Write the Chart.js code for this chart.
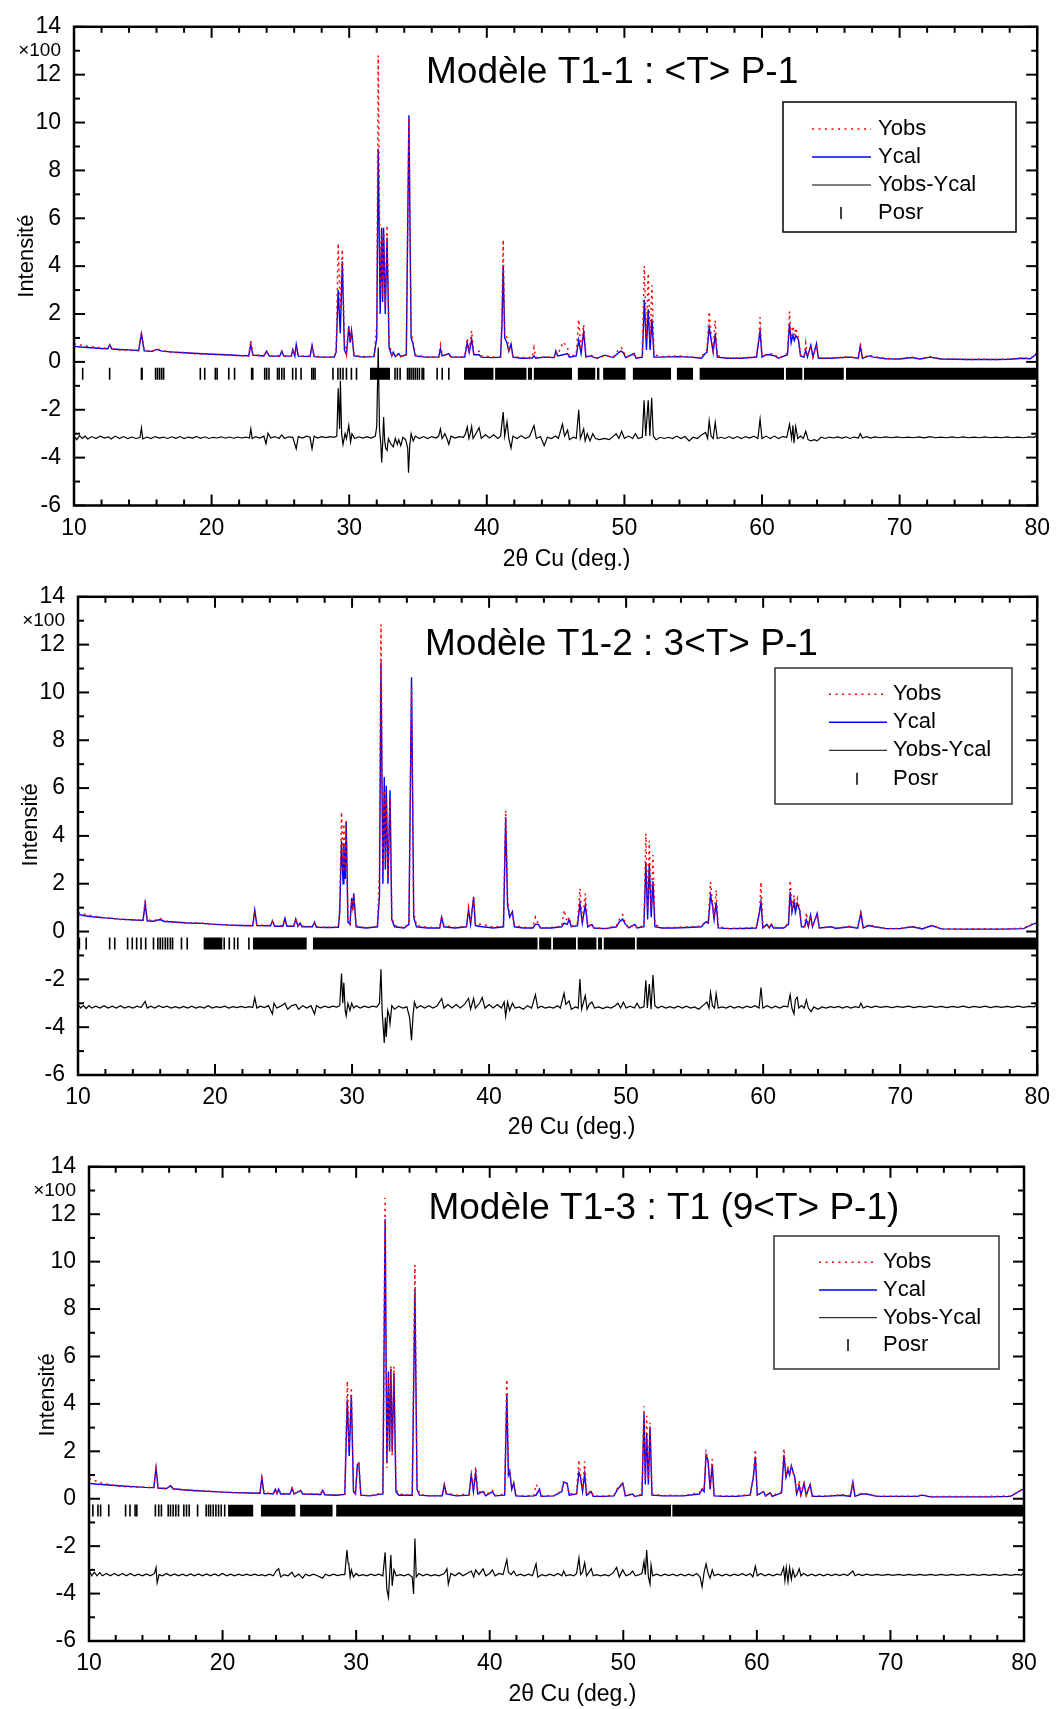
<!DOCTYPE html>
<html>
<head>
<meta charset="utf-8">
<script src="https://cdn.jsdelivr.net/npm/chart.js@4.4.0/dist/chart.umd.min.js"></script>
<style>
  html, body { margin: 0; padding: 0; background: #fff; }
  .panel { position: absolute; left: 0; width: 1059px; }
</style>
</head>
<body>
<div class="panel" style="top:0;height:570px"><canvas id="c1"></canvas></div>
<div class="panel" style="top:570px;height:570px"><canvas id="c2"></canvas></div>
<div class="panel" style="top:1140px;height:569px"><canvas id="c3"></canvas></div>
<script>
// rows: [2theta, Ycal, Yobs]  (intensity x100)
const pat1 = [
  [10.0,0.65,0.75],[10.5,0.62,0.70],[11.0,0.60,0.65],[11.5,0.58,0.62],[12.0,0.56,0.58],[12.45,0.55,0.57],[12.6,0.72,0.68],[12.75,0.54,0.55],
  [13.3,0.52,0.50],[14.0,0.50,0.48],[14.7,0.48,0.47],[14.9,1.17,1.25],[15.1,0.46,0.48],[15.7,0.44,0.45],[16.0,0.52,0.55],[16.4,0.45,0.47],
  [17.0,0.42,0.40],[18.0,0.38,0.39],[19.0,0.35,0.33],[20.0,0.32,0.33],[21.0,0.30,0.29],[22.0,0.27,0.26],[22.7,0.26,0.25],[22.85,0.73,0.90],
  [23.0,0.28,0.30],[23.8,0.25,0.26],[24.0,0.45,0.42],[24.2,0.24,0.25],[24.95,0.24,0.26],[25.1,0.45,0.43],[25.25,0.24,0.25],[25.8,0.24,0.25],
  [25.9,0.52,0.45],[26.05,0.25,0.30],[26.15,0.73,0.60],[26.3,0.24,0.25],[27.15,0.22,0.24],[27.3,0.70,0.62],[27.45,0.22,0.24],[28.0,0.20,0.20],
  [28.9,0.20,0.21],[29.05,0.4,0.4],[29.2,3.0,4.95],[29.35,1.2,2.2],[29.5,4.2,4.7],[29.65,0.5,0.9],[29.8,0.3,0.35],[29.97,1.5,1.45],
  [30.07,0.8,0.9],[30.17,1.3,1.3],[30.35,0.25,0.28],[31.0,0.20,0.22],[31.8,0.22,0.22],[32.0,1.0,1.5],[32.11,8.9,12.8],[32.25,2.0,3.0],
  [32.36,5.6,5.3],[32.43,2.5,2.8],[32.5,5.6,5.4],[32.62,2.0,2.3],[32.75,5.2,5.7],[32.9,0.6,0.8],[33.1,0.25,0.3],[33.2,0.4,0.35],
  [33.35,0.22,0.25],[33.6,0.35,0.3],[33.75,0.22,0.22],[34.15,0.3,0.3],[34.34,10.3,10.2],[34.5,1.0,1.2],[34.62,0.8,0.9],[34.8,0.25,0.3],
  [35.5,0.2,0.22],[36.5,0.2,0.2],[36.63,0.55,0.7],[36.75,0.25,0.3],[37.24,0.35,0.3],[37.4,0.2,0.2],[38.4,0.2,0.22],[38.58,0.8,1.0],
  [38.72,0.4,0.45],[38.9,0.95,1.3],[39.05,0.3,0.35],[39.44,0.3,0.45],[39.6,0.2,0.25],[40.5,0.18,0.2],[41.0,0.2,0.2],[41.1,1.5,1.8],
  [41.19,4.05,5.1],[41.3,1.0,1.2],[41.47,0.8,1.0],[41.6,0.45,0.5],[41.76,0.75,0.6],[41.9,0.2,0.22],[42.5,0.15,0.18],[43.3,0.16,0.18],
  [43.43,0.25,0.6],[43.55,0.15,0.18],[44.17,0.2,0.2],[44.9,0.18,0.2],[45.02,0.46,0.4],[45.15,0.25,0.3],[45.56,0.3,0.83],[45.87,0.35,0.6],
  [46.0,0.2,0.22],[46.5,0.25,0.3],[46.68,0.91,1.77],[46.85,0.35,0.5],[47.04,1.26,1.56],[47.2,0.2,0.25],[47.5,0.25,0.3],[48.0,0.15,0.15],
  [48.56,0.28,0.25],[49.2,0.18,0.2],[49.5,0.35,0.45],[49.75,0.45,0.6],[49.9,0.4,0.5],[50.1,0.18,0.2],[50.7,0.35,0.3],[50.85,0.15,0.15],
  [51.3,0.2,0.25],[51.45,2.6,4.0],[51.6,0.5,1.0],[51.73,2.2,3.7],[51.87,0.5,0.9],[52.0,1.8,3.2],[52.15,0.2,0.3],[52.65,0.2,0.22],
  [53.87,0.22,0.25],[54.82,0.2,0.2],[55.6,0.15,0.18],[55.87,0.35,0.45],[56.0,0.4,0.5],[56.16,1.45,2.1],[56.31,0.9,1.1],[56.45,0.4,0.5],
  [56.6,1.18,1.73],[56.75,0.2,0.25],[57.5,0.15,0.15],[58.5,0.15,0.16],[59.6,0.2,0.22],[59.77,0.94,0.9],[59.86,1.29,1.87],[60.0,0.2,0.25],
  [60.3,0.3,0.3],[60.57,0.3,0.35],[60.94,0.25,0.3],[61.2,0.15,0.15],[61.85,0.3,0.35],[62.0,1.6,2.1],[62.12,0.8,1.0],[62.25,1.13,1.5],
  [62.35,0.9,1.1],[62.45,1.1,1.42],[62.64,0.94,1.0],[62.8,0.25,0.3],[63.05,0.2,0.2],[63.18,0.48,0.8],[63.3,0.2,0.22],[63.55,0.7,0.65],
  [63.7,0.2,0.2],[63.96,0.76,0.7],[64.1,0.15,0.15],[65.0,0.15,0.16],[66.35,0.2,0.22],[67.0,0.15,0.15],[67.15,0.66,0.8],[67.3,0.15,0.15],
  [67.77,0.25,0.3],[68.1,0.2,0.22],[69.0,0.13,0.14],[70.0,0.12,0.13],[70.86,0.18,0.2],[71.5,0.12,0.12],[72.2,0.2,0.22],[73.0,0.12,0.12],
  [74.0,0.11,0.12],[75.0,0.1,0.1],[76.0,0.1,0.11],[77.0,0.1,0.1],[78.0,0.11,0.12],[78.9,0.15,0.17],[79.5,0.13,0.14],[80.0,0.35,0.4]
];
const pat2 = [
  [10.0,0.72,0.8],[10.5,0.66,0.72],[11.0,0.62,0.66],[11.5,0.6,0.6],[12.0,0.57,0.56],[12.5,0.55,0.55],[13.0,0.52,0.5],[13.6,0.5,0.5],
  [14.2,0.48,0.48],[14.75,0.47,0.46],[14.9,1.18,1.32],[15.05,0.45,0.5],[15.5,0.43,0.44],[16.0,0.5,0.55],[16.3,0.42,0.45],[17.0,0.4,0.38],
  [18.0,0.36,0.37],[19.0,0.34,0.36],[20.0,0.3,0.3],[21.0,0.27,0.28],[22.0,0.25,0.24],[22.75,0.24,0.25],[22.9,0.9,0.85],[23.05,0.25,0.28],
  [24.05,0.24,0.25],[24.19,0.45,0.42],[24.35,0.22,0.24],[24.95,0.22,0.24],[25.1,0.55,0.5],[25.25,0.22,0.24],[25.75,0.22,0.22],[25.89,0.52,0.5],
  [26.05,0.22,0.25],[26.2,0.35,0.3],[26.35,0.2,0.22],[27.1,0.2,0.2],[27.26,0.4,0.35],[27.4,0.18,0.2],[28.2,0.17,0.17],[29.0,0.18,0.2],
  [29.1,0.8,1.0],[29.23,3.8,5.0],[29.35,2.0,2.5],[29.4,3.7,4.5],[29.5,2.2,2.6],[29.57,4.6,4.7],[29.7,0.4,0.5],[29.85,0.3,0.35],
  [29.97,1.4,1.3],[30.05,0.9,1.0],[30.12,1.6,1.5],[30.3,0.2,0.25],[31.0,0.15,0.15],[31.85,0.2,0.22],[32.0,1.5,2.5],[32.11,11.25,12.84],
  [32.25,2.0,2.5],[32.35,6.46,5.9],[32.43,2.6,2.8],[32.5,6.1,5.6],[32.62,2.0,2.2],[32.77,5.91,5.5],[32.9,0.5,0.6],[33.1,0.2,0.25],
  [33.8,0.15,0.15],[34.15,0.3,0.35],[34.34,10.63,10.2],[34.5,0.6,0.8],[34.7,0.2,0.25],[35.5,0.15,0.18],[36.4,0.15,0.15],[36.54,0.6,0.65],
  [36.7,0.2,0.25],[37.5,0.15,0.18],[38.35,0.2,0.22],[38.5,0.9,1.0],[38.65,0.3,0.35],[38.87,1.45,1.4],[39.0,0.25,0.3],[39.5,0.2,0.3],
  [40.3,0.15,0.18],[41.05,0.2,0.25],[41.21,4.77,5.07],[41.35,1.1,1.3],[41.5,0.6,0.7],[41.7,0.83,0.75],[41.85,0.2,0.25],[42.5,0.15,0.18],
  [43.2,0.15,0.16],[43.38,0.3,0.6],[43.6,0.3,0.3],[43.75,0.15,0.15],[44.5,0.15,0.17],[45.3,0.2,0.22],[45.47,0.35,0.9],[45.7,0.3,0.4],
  [45.84,0.49,0.6],[46.0,0.2,0.22],[46.45,0.25,0.35],[46.63,1.18,1.8],[46.8,0.35,0.4],[47.02,1.11,1.59],[47.2,0.2,0.22],[47.5,0.3,0.3],
  [47.65,0.15,0.15],[48.5,0.12,0.13],[49.3,0.2,0.25],[49.5,0.4,0.5],[49.75,0.52,0.7],[49.95,0.3,0.35],[50.2,0.15,0.16],[50.63,0.3,0.3],
  [50.8,0.15,0.15],[51.3,0.2,0.25],[51.44,2.9,4.1],[51.57,0.5,0.9],[51.69,2.86,3.8],[51.83,0.6,1.0],[51.96,2.1,3.2],[52.1,0.2,0.3],
  [52.6,0.15,0.16],[53.5,0.15,0.17],[54.5,0.17,0.2],[55.5,0.2,0.22],[55.79,0.4,0.45],[56.0,0.35,0.4],[56.16,1.52,2.07],[56.3,1.1,1.2],
  [56.42,0.5,0.6],[56.57,1.22,1.73],[56.72,0.15,0.2],[57.5,0.12,0.13],[58.5,0.13,0.14],[59.5,0.15,0.17],[59.74,0.83,0.8],[59.84,1.25,2.07],
  [59.98,0.15,0.2],[60.27,0.3,0.3],[60.45,0.15,0.15],[60.6,0.3,0.3],[60.75,0.15,0.17],[61.5,0.15,0.16],[61.85,0.3,0.35],[61.97,1.66,2.14],
  [62.1,0.8,1.0],[62.25,1.25,1.52],[62.35,0.8,1.0],[62.49,1.18,1.38],[62.66,0.9,0.95],[62.8,0.2,0.25],[63.02,0.2,0.2],[63.15,0.49,0.8],
  [63.3,0.2,0.2],[63.46,0.69,0.65],[63.6,0.2,0.2],[63.94,0.76,0.72],[64.1,0.15,0.15],[65.0,0.2,0.2],[65.3,0.13,0.14],[66.3,0.2,0.22],
  [66.9,0.14,0.15],[67.13,0.79,0.75],[67.3,0.15,0.15],[67.7,0.25,0.28],[68.1,0.2,0.22],[69.0,0.12,0.12],[70.0,0.12,0.13],[70.9,0.2,0.22],
  [71.6,0.11,0.12],[72.3,0.25,0.25],[73.0,0.11,0.12],[74.5,0.1,0.11],[76.0,0.1,0.12],[77.5,0.1,0.11],[79.0,0.12,0.14],[79.86,0.35,0.38],[80.0,0.3,0.3]
];
const pat3 = [
  [10.0,0.65,0.85],[10.5,0.62,0.75],[11.0,0.6,0.65],[11.5,0.58,0.6],[12.0,0.56,0.55],[12.5,0.54,0.52],[13.0,0.52,0.5],[13.6,0.5,0.48],
  [14.2,0.48,0.48],[14.85,0.47,0.46],[15.02,1.3,1.23],[15.17,0.45,0.45],[15.8,0.43,0.42],[16.11,0.55,0.55],[16.3,0.42,0.42],[17.0,0.38,0.38],
  [18.0,0.34,0.35],[19.0,0.31,0.32],[20.0,0.28,0.28],[21.0,0.26,0.25],[22.0,0.24,0.24],[22.8,0.23,0.23],[22.94,0.88,0.85],[23.1,0.22,0.25],
  [23.8,0.21,0.22],[23.95,0.4,0.38],[24.08,0.22,0.25],[24.2,0.4,0.38],[24.35,0.2,0.22],[25.05,0.2,0.22],[25.21,0.45,0.45],[25.35,0.2,0.22],
  [25.85,0.35,0.32],[26.0,0.2,0.2],[27.35,0.18,0.2],[27.49,0.35,0.4],[27.65,0.17,0.17],[28.5,0.15,0.16],[29.15,0.18,0.2],[29.34,4.2,4.96],
  [29.48,1.8,2.2],[29.64,4.38,4.7],[29.8,0.3,0.4],[29.95,0.2,0.25],[30.09,1.44,1.4],[30.2,1.5,1.45],[30.35,0.15,0.18],[31.0,0.12,0.12],
  [32.0,0.2,0.25],[32.17,11.8,12.69],[32.3,1.5,1.3],[32.42,5.37,5.2],[32.5,2.0,2.0],[32.6,5.48,5.6],[32.7,2.0,1.8],[32.83,5.3,5.57],
  [32.98,0.3,0.4],[33.2,0.15,0.2],[34.2,0.15,0.15],[34.4,8.85,9.86],[34.56,0.4,0.6],[34.75,0.15,0.18],[35.5,0.12,0.12],[36.45,0.12,0.14],
  [36.6,0.6,0.55],[36.75,0.2,0.25],[37.5,0.12,0.15],[38.45,0.15,0.2],[38.62,1.02,1.0],[38.78,0.3,0.4],[38.95,1.11,1.34],[39.1,0.2,0.25],
  [39.5,0.3,0.35],[39.7,0.12,0.15],[40.2,0.3,0.35],[40.4,0.12,0.13],[41.12,0.15,0.2],[41.28,4.43,5.03],[41.4,1.0,1.2],[41.5,1.17,1.1],
  [41.65,0.4,0.5],[41.8,0.67,0.6],[41.95,0.12,0.15],[42.6,0.1,0.12],[43.3,0.12,0.13],[43.47,0.15,0.6],[43.72,0.4,0.35],[43.85,0.1,0.12],
  [44.8,0.12,0.13],[45.4,0.3,0.35],[45.54,0.7,0.75],[45.8,0.65,0.6],[45.95,0.15,0.2],[46.5,0.2,0.25],[46.68,1.11,1.64],[46.8,0.9,1.0],
  [46.95,0.3,0.4],[47.11,1.06,1.57],[47.25,0.15,0.2],[47.6,0.3,0.35],[47.75,0.1,0.12],[48.5,0.1,0.11],[49.3,0.12,0.15],[49.58,0.4,0.45],
  [49.96,0.66,0.65],[50.15,0.12,0.15],[50.7,0.2,0.2],[50.85,0.1,0.1],[51.4,0.15,0.2],[51.55,3.6,3.9],[51.65,0.6,0.8],[51.75,2.75,3.5],
  [51.88,0.6,0.8],[52.0,3.05,3.2],[52.15,0.15,0.2],[53.0,0.12,0.13],[53.4,0.12,0.15],[54.5,0.12,0.13],[55.7,0.2,0.25],[55.9,0.4,0.45],
  [56.05,0.3,0.35],[56.2,1.85,2.06],[56.35,1.6,1.5],[56.5,0.4,0.5],[56.66,1.43,1.67],[56.8,0.12,0.15],[57.5,0.1,0.11],[58.5,0.1,0.12],
  [59.5,0.15,0.18],[59.73,0.88,0.9],[59.89,1.78,2.08],[60.03,0.15,0.2],[60.5,0.3,0.3],[60.65,0.12,0.12],[61.0,0.25,0.25],[61.15,0.1,0.12],
  [61.85,0.25,0.3],[62.03,1.85,2.12],[62.18,0.9,1.0],[62.33,1.23,1.3],[62.45,1.0,1.1],[62.58,1.39,1.35],[62.84,0.9,0.85],[62.98,0.2,0.22],
  [63.17,0.54,0.78],[63.3,0.15,0.2],[63.53,0.65,0.65],[63.7,0.15,0.15],[63.99,0.6,0.62],[64.15,0.1,0.12],[65.0,0.1,0.11],[66.4,0.15,0.17],
  [67.0,0.1,0.12],[67.19,0.7,0.72],[67.35,0.1,0.12],[67.8,0.2,0.22],[68.2,0.2,0.2],[69.0,0.1,0.1],[70.5,0.1,0.11],[72.0,0.1,0.1],
  [72.37,0.15,0.18],[73.0,0.08,0.09],[74.5,0.08,0.1],[76.0,0.08,0.09],[77.5,0.08,0.1],[79.0,0.1,0.12],[79.9,0.4,0.4],[80.0,0.35,0.35]
];

// Yobs-Ycal, plotted with its offset: [2theta, value]
const diff1 = [
  [10.0,-3.1],[10.2,-3.25],[10.4,-3.08],[10.6,-3.2],[10.8,-3.1],[11.0,-3.22],[11.3,-3.12],[11.6,-3.2],[11.9,-3.1],[12.2,-3.18],[12.5,-3.13],[12.7,-3.22],
  [13.0,-3.1],[13.3,-3.2],[13.6,-3.12],[13.9,-3.2],[14.2,-3.14],[14.5,-3.2],[14.8,-3.15],[14.9,-2.75],[15.0,-3.22],[15.3,-3.14],[15.6,-3.2],[15.9,-3.12],
  [16.2,-3.18],[16.5,-3.14],[16.8,-3.2],[17.1,-3.13],[17.4,-3.19],[17.7,-3.12],[18.0,-3.2],[18.3,-3.14],[18.6,-3.18],[18.9,-3.12],[19.2,-3.19],[19.5,-3.13],
  [19.8,-3.2],[20.1,-3.15],[20.4,-3.18],[20.7,-3.13],[21.0,-3.19],[21.3,-3.14],[21.6,-3.19],[21.9,-3.14],[22.2,-3.18],[22.5,-3.14],[22.75,-3.18],[22.85,-2.8],
  [22.95,-3.2],[23.2,-3.12],[23.5,-3.18],[23.8,-3.1],[23.95,-3.42],[24.1,-2.98],[24.3,-3.18],[24.6,-3.12],[24.9,-3.2],[25.1,-3.05],[25.3,-3.2],[25.6,-3.13],
  [25.9,-3.15],[26.15,-3.63],[26.3,-3.12],[26.6,-3.18],[26.9,-3.1],[27.15,-3.15],[27.3,-3.63],[27.45,-3.1],[27.7,-3.18],[28.0,-3.12],[28.3,-3.16],[28.6,-3.12],
  [28.9,-3.15],[29.1,-3.1],[29.2,-1.1],[29.3,-2.8],[29.36,-0.8],[29.45,-3.0],[29.55,-3.45],[29.7,-3.0],[29.8,-3.2],[29.97,-2.65],[30.1,-3.35],[30.2,-3.0],
  [30.4,-3.2],[30.7,-3.13],[31.0,-3.18],[31.3,-3.12],[31.6,-3.18],[31.9,-3.1],[32.0,-2.7],[32.11,0.6],[32.2,-2.8],[32.3,-3.45],[32.36,-4.2],[32.44,-3.3],
  [32.5,-2.3],[32.58,-3.3],[32.65,-3.6],[32.75,-3.7],[32.85,-3.2],[33.0,-3.4],[33.2,-3.55],[33.35,-3.2],[33.5,-3.45],[33.6,-3.25],[33.75,-3.5],[33.9,-3.15],
  [34.1,-3.25],[34.25,-3.6],[34.31,-4.63],[34.4,-3.5],[34.5,-3.0],[34.65,-3.3],[34.8,-3.1],[35.1,-3.2],[35.4,-3.12],[35.7,-3.2],[36.0,-3.12],[36.3,-3.18],
  [36.5,-3.1],[36.63,-2.8],[36.75,-3.2],[36.95,-3.0],[37.1,-3.2],[37.24,-3.45],[37.4,-3.1],[37.7,-3.18],[38.0,-3.12],[38.3,-3.15],[38.45,-3.0],[38.58,-2.72],
  [38.7,-3.2],[38.8,-3.0],[38.9,-2.7],[39.0,-3.2],[39.2,-3.0],[39.44,-2.75],[39.6,-3.2],[39.9,-3.05],[40.2,-3.18],[40.5,-3.05],[40.8,-3.2],[41.0,-3.1],
  [41.19,-2.1],[41.3,-3.1],[41.47,-2.5],[41.6,-3.2],[41.76,-3.6],[41.9,-3.1],[42.2,-3.2],[42.5,-3.08],[42.8,-3.2],[43.1,-3.12],[43.43,-2.66],[43.6,-3.2],
  [43.9,-3.12],[44.17,-3.5],[44.4,-3.15],[44.7,-3.2],[45.0,-3.1],[45.2,-3.2],[45.5,-2.6],[45.65,-3.1],[45.87,-2.85],[46.0,-3.25],[46.3,-3.15],[46.5,-3.2],
  [46.68,-2.0],[46.8,-3.2],[47.04,-2.8],[47.15,-3.3],[47.3,-3.0],[47.5,-3.3],[47.7,-3.0],[47.9,-3.2],[48.2,-3.25],[48.56,-3.2],[48.9,-3.25],[49.2,-3.1],
  [49.4,-3.0],[49.6,-3.2],[49.8,-2.9],[50.0,-3.2],[50.3,-3.1],[50.6,-3.2],[50.8,-3.0],[51.0,-3.2],[51.3,-3.15],[51.43,-1.6],[51.55,-3.1],[51.73,-1.6],
  [51.85,-3.1],[51.98,-1.5],[52.1,-3.1],[52.3,-3.25],[52.6,-3.15],[52.9,-3.2],[53.2,-3.15],[53.5,-3.2],[53.8,-3.1],[54.1,-3.2],[54.4,-3.12],[54.7,-3.3],
  [55.0,-3.15],[55.3,-3.2],[55.6,-3.05],[55.9,-2.95],[56.05,-3.2],[56.16,-2.46],[56.3,-3.1],[56.45,-3.2],[56.6,-2.53],[56.75,-3.2],[57.0,-3.15],[57.3,-3.2],
  [57.6,-3.12],[57.9,-3.2],[58.2,-3.12],[58.5,-3.2],[58.8,-3.12],[59.1,-3.18],[59.4,-3.1],[59.7,-3.2],[59.86,-2.39],[60.0,-3.2],[60.3,-3.1],[60.6,-3.2],
  [60.9,-3.1],[61.2,-3.2],[61.5,-3.12],[61.8,-3.15],[62.0,-2.6],[62.15,-3.2],[62.25,-2.65],[62.32,-3.4],[62.45,-2.7],[62.6,-3.2],[62.8,-3.1],[63.0,-3.2],
  [63.18,-2.9],[63.35,-3.25],[63.55,-3.3],[63.8,-3.25],[64.0,-3.3],[64.3,-3.15],[64.6,-3.2],[64.9,-3.14],[65.2,-3.18],[65.5,-3.13],[65.8,-3.18],[66.1,-3.13],
  [66.4,-3.2],[66.7,-3.14],[67.0,-3.18],[67.15,-3.0],[67.3,-3.18],[67.6,-3.12],[67.9,-3.18],[68.2,-3.13],[68.6,-3.17],[69.0,-3.13],[69.4,-3.17],[69.8,-3.13],
  [70.2,-3.17],[70.6,-3.14],[71.0,-3.17],[71.4,-3.13],[71.8,-3.17],[72.2,-3.12],[72.6,-3.17],[73.0,-3.14],[73.4,-3.17],[73.8,-3.13],[74.2,-3.17],[74.6,-3.13],
  [75.0,-3.17],[75.4,-3.14],[75.8,-3.17],[76.2,-3.13],[76.6,-3.17],[77.0,-3.14],[77.4,-3.17],[77.8,-3.13],[78.2,-3.17],[78.6,-3.14],[79.0,-3.17],[79.4,-3.13],
  [79.8,-3.15],[80.0,-3.05]
];
const diff2 = [
  [10.0,-3.05],[10.2,-3.2],[10.4,-3.1],[10.6,-3.22],[10.8,-3.1],[11.0,-3.2],[11.3,-3.12],[11.6,-3.2],[11.9,-3.1],[12.2,-3.2],[12.5,-3.12],[12.8,-3.2],
  [13.1,-3.1],[13.4,-3.2],[13.7,-3.13],[14.0,-3.2],[14.3,-3.12],[14.6,-3.18],[14.9,-2.92],[15.05,-3.2],[15.3,-3.12],[15.6,-3.2],[15.9,-3.1],[16.2,-3.18],
  [16.5,-3.12],[16.8,-3.2],[17.1,-3.14],[17.4,-3.2],[17.7,-3.13],[18.0,-3.2],[18.3,-3.12],[18.6,-3.2],[18.9,-3.14],[19.2,-3.2],[19.5,-3.1],[19.8,-3.2],
  [20.1,-3.14],[20.4,-3.18],[20.7,-3.12],[21.0,-3.2],[21.3,-3.14],[21.6,-3.18],[21.9,-3.13],[22.2,-3.18],[22.5,-3.14],[22.75,-3.18],[22.9,-2.76],[23.05,-3.2],
  [23.3,-3.12],[23.6,-3.18],[23.9,-3.1],[24.19,-3.45],[24.3,-3.0],[24.5,-3.2],[24.8,-3.12],[25.1,-3.0],[25.3,-3.25],[25.6,-3.1],[25.9,-3.05],[26.1,-3.25],
  [26.4,-3.1],[26.7,-3.2],[27.0,-3.1],[27.26,-3.45],[27.4,-3.1],[27.7,-3.2],[28.0,-3.12],[28.3,-3.18],[28.6,-3.12],[28.9,-3.16],[29.1,-3.1],[29.23,-1.76],
  [29.32,-3.0],[29.4,-2.14],[29.5,-3.3],[29.57,-3.52],[29.7,-3.0],[29.85,-3.3],[29.97,-3.0],[30.12,-3.2],[30.3,-3.1],[30.6,-3.2],[30.9,-3.12],[31.2,-3.18],
  [31.5,-3.12],[31.8,-3.16],[32.0,-3.0],[32.11,-1.58],[32.2,-3.4],[32.3,-4.2],[32.35,-4.66],[32.43,-3.6],[32.5,-4.41],[32.6,-3.3],[32.7,-3.5],[32.77,-3.86],
  [32.9,-3.1],[33.1,-3.25],[33.4,-3.12],[33.7,-3.2],[34.0,-3.15],[34.2,-3.6],[34.34,-4.55],[34.45,-3.5],[34.55,-2.95],[34.7,-3.2],[35.0,-3.1],[35.3,-3.2],
  [35.6,-3.1],[35.9,-3.2],[36.2,-3.12],[36.54,-2.8],[36.7,-3.2],[37.0,-3.05],[37.3,-3.2],[37.6,-3.05],[37.9,-3.2],[38.2,-3.05],[38.5,-2.8],[38.65,-3.25],
  [38.87,-2.8],[39.0,-3.2],[39.3,-3.0],[39.5,-2.76],[39.7,-3.2],[40.0,-3.05],[40.3,-3.2],[40.6,-3.05],[40.9,-3.2],[41.1,-2.95],[41.21,-3.54],[41.35,-2.95],
  [41.5,-3.3],[41.7,-3.0],[41.9,-3.2],[42.2,-3.15],[42.5,-3.25],[42.8,-3.1],[43.1,-3.2],[43.38,-2.64],[43.55,-3.2],[43.8,-3.12],[44.1,-3.2],[44.4,-3.15],
  [44.7,-3.2],[45.0,-3.1],[45.2,-3.2],[45.47,-2.58],[45.6,-3.05],[45.84,-2.9],[46.0,-3.25],[46.3,-3.15],[46.5,-3.2],[46.63,-1.99],[46.75,-3.25],[47.02,-2.68],
  [47.15,-3.25],[47.3,-3.05],[47.5,-2.95],[47.7,-3.2],[48.0,-3.15],[48.3,-3.22],[48.6,-3.15],[48.9,-3.2],[49.2,-3.1],[49.4,-3.0],[49.6,-3.2],[49.8,-2.95],
  [50.0,-3.2],[50.3,-3.12],[50.6,-3.2],[50.8,-3.0],[51.0,-3.2],[51.3,-3.15],[51.44,-2.04],[51.55,-3.2],[51.69,-2.2],[51.82,-3.25],[51.96,-1.82],[52.1,-3.1],
  [52.3,-3.2],[52.6,-3.12],[52.9,-3.2],[53.2,-3.14],[53.5,-3.2],[53.8,-3.12],[54.1,-3.2],[54.4,-3.12],[54.7,-3.2],[55.0,-3.15],[55.3,-3.25],[55.6,-3.1],
  [55.9,-2.95],[56.05,-3.2],[56.16,-2.55],[56.3,-3.1],[56.45,-3.2],[56.57,-2.6],[56.72,-3.2],[57.0,-3.15],[57.3,-3.2],[57.6,-3.12],[57.9,-3.2],[58.2,-3.13],
  [58.5,-3.2],[58.8,-3.12],[59.1,-3.18],[59.4,-3.1],[59.7,-3.2],[59.84,-2.34],[59.98,-3.2],[60.3,-3.1],[60.6,-3.2],[60.9,-3.12],[61.2,-3.2],[61.5,-3.12],
  [61.8,-3.15],[61.97,-2.64],[62.1,-3.2],[62.25,-3.45],[62.35,-2.85],[62.49,-2.75],[62.6,-3.2],[62.8,-3.1],[63.0,-3.2],[63.15,-2.85],[63.3,-3.2],[63.5,-3.35],
  [63.7,-3.15],[64.0,-3.25],[64.3,-3.15],[64.6,-3.2],[64.9,-3.14],[65.2,-3.18],[65.5,-3.13],[65.8,-3.2],[66.1,-3.13],[66.4,-3.2],[66.7,-3.14],[67.0,-3.18],
  [67.13,-3.0],[67.3,-3.2],[67.6,-3.12],[67.9,-3.18],[68.2,-3.12],[68.6,-3.17],[69.0,-3.13],[69.4,-3.18],[69.8,-3.13],[70.2,-3.17],[70.6,-3.12],[71.0,-3.18],
  [71.4,-3.13],[71.8,-3.17],[72.2,-3.12],[72.6,-3.17],[73.0,-3.13],[73.4,-3.18],[73.8,-3.13],[74.2,-3.17],[74.6,-3.12],[75.0,-3.18],[75.4,-3.13],[75.8,-3.17],
  [76.2,-3.12],[76.6,-3.18],[77.0,-3.13],[77.4,-3.17],[77.8,-3.13],[78.2,-3.17],[78.6,-3.12],[79.0,-3.17],[79.4,-3.13],[79.8,-3.15],[80.0,-3.02]
];
const diff3 = [
  [10.0,-3.0],[10.2,-3.25],[10.4,-3.1],[10.6,-3.25],[10.8,-3.12],[11.0,-3.25],[11.3,-3.15],[11.6,-3.25],[11.9,-3.15],[12.2,-3.25],[12.5,-3.15],[12.8,-3.25],
  [13.1,-3.15],[13.4,-3.25],[13.7,-3.18],[14.0,-3.25],[14.3,-3.17],[14.6,-3.25],[14.9,-3.15],[15.02,-2.9],[15.1,-3.55],[15.25,-3.2],[15.5,-3.25],[15.8,-3.15],
  [16.1,-3.25],[16.4,-3.17],[16.7,-3.25],[17.0,-3.18],[17.3,-3.25],[17.6,-3.17],[17.9,-3.25],[18.2,-3.17],[18.5,-3.25],[18.8,-3.17],[19.1,-3.25],[19.4,-3.17],
  [19.7,-3.25],[20.0,-3.15],[20.3,-3.25],[20.6,-3.18],[20.9,-3.25],[21.2,-3.18],[21.5,-3.24],[21.8,-3.18],[22.1,-3.24],[22.4,-3.18],[22.7,-3.24],[22.94,-3.2],
  [23.2,-3.25],[23.5,-3.18],[23.8,-3.25],[24.0,-3.05],[24.2,-2.95],[24.35,-3.3],[24.6,-3.2],[24.9,-3.25],[25.2,-3.1],[25.4,-3.3],[25.7,-3.18],[26.0,-3.35],
  [26.2,-3.18],[26.5,-3.25],[26.8,-3.18],[27.1,-3.25],[27.49,-3.35],[27.7,-3.18],[28.0,-3.25],[28.3,-3.18],[28.6,-3.24],[28.9,-3.2],[29.15,-3.2],[29.31,-2.16],
  [29.4,-2.7],[29.45,-2.75],[29.55,-3.3],[29.64,-3.0],[29.8,-3.3],[30.0,-3.15],[30.2,-3.25],[30.5,-3.2],[30.8,-3.25],[31.1,-3.18],[31.4,-3.24],[31.7,-3.18],
  [32.0,-3.25],[32.17,-2.26],[32.3,-3.82],[32.42,-4.16],[32.5,-3.3],[32.6,-2.37],[32.7,-3.68],[32.83,-3.0],[33.0,-3.25],[33.3,-3.2],[33.6,-3.25],[33.9,-3.18],
  [34.2,-3.3],[34.3,-4.02],[34.4,-1.68],[34.5,-3.3],[34.7,-3.15],[35.0,-3.25],[35.3,-3.18],[35.6,-3.25],[35.9,-3.2],[36.2,-3.25],[36.6,-3.15],[36.8,-2.95],
  [36.9,-3.6],[37.1,-3.15],[37.4,-3.25],[37.7,-3.12],[38.0,-3.25],[38.3,-3.15],[38.62,-3.05],[38.8,-3.3],[38.95,-3.0],[39.2,-3.2],[39.5,-2.95],[39.7,-3.25],
  [40.0,-3.15],[40.2,-3.0],[40.4,-3.25],[40.7,-3.15],[41.0,-3.2],[41.28,-2.57],[41.4,-3.1],[41.6,-3.2],[41.8,-3.05],[42.0,-3.25],[42.3,-3.18],[42.6,-3.25],
  [42.9,-3.18],[43.2,-3.25],[43.47,-2.75],[43.6,-3.3],[43.9,-3.2],[44.2,-3.25],[44.5,-3.18],[44.8,-3.25],[45.1,-3.15],[45.4,-3.25],[45.54,-3.05],[45.7,-3.25],
  [46.0,-3.2],[46.3,-3.25],[46.5,-3.15],[46.68,-2.5],[46.8,-3.2],[46.95,-3.1],[47.11,-2.7],[47.25,-3.25],[47.6,-2.95],[47.75,-3.25],[48.0,-3.2],[48.3,-3.25],
  [48.6,-3.2],[48.9,-3.25],[49.2,-3.15],[49.5,-2.9],[49.7,-3.3],[49.96,-3.0],[50.2,-3.25],[50.5,-3.18],[50.7,-3.05],[50.9,-3.25],[51.2,-3.2],[51.4,-3.15],
  [51.55,-2.65],[51.65,-3.2],[51.75,-2.16],[51.88,-3.3],[52.0,-3.6],[52.08,-2.8],[52.2,-3.25],[52.5,-3.18],[52.8,-3.25],[53.1,-3.18],[53.4,-3.24],[53.7,-3.18],
  [54.0,-3.25],[54.3,-3.18],[54.6,-3.25],[54.9,-3.18],[55.2,-3.25],[55.5,-3.15],[55.75,-3.3],[55.9,-3.72],[56.05,-3.1],[56.2,-2.75],[56.35,-3.15],[56.5,-3.35],
  [56.66,-3.0],[56.8,-3.25],[57.1,-3.18],[57.4,-3.25],[57.7,-3.18],[58.0,-3.25],[58.3,-3.18],[58.6,-3.24],[58.9,-3.16],[59.2,-3.24],[59.5,-3.16],[59.7,-3.3],
  [59.89,-2.85],[60.03,-3.25],[60.3,-3.15],[60.6,-3.25],[60.9,-3.18],[61.2,-3.25],[61.5,-3.18],[61.8,-3.22],[62.0,-2.9],[62.1,-3.45],[62.2,-2.9],[62.33,-3.5],
  [62.45,-2.9],[62.58,-3.4],[62.7,-3.0],[62.84,-3.3],[63.0,-3.2],[63.17,-2.95],[63.3,-3.25],[63.5,-3.15],[63.8,-3.25],[64.1,-3.18],[64.4,-3.25],[64.7,-3.18],
  [65.0,-3.25],[65.3,-3.18],[65.6,-3.24],[65.9,-3.18],[66.2,-3.24],[66.5,-3.18],[66.8,-3.24],[67.19,-3.05],[67.35,-3.25],[67.6,-3.18],[67.9,-3.24],[68.2,-3.18],
  [68.6,-3.23],[69.0,-3.19],[69.4,-3.23],[69.8,-3.19],[70.2,-3.23],[70.6,-3.19],[71.0,-3.23],[71.4,-3.19],[71.8,-3.23],[72.2,-3.19],[72.6,-3.23],[73.0,-3.19],
  [73.4,-3.23],[73.8,-3.19],[74.2,-3.23],[74.6,-3.19],[75.0,-3.23],[75.4,-3.19],[75.8,-3.23],[76.2,-3.19],[76.6,-3.23],[77.0,-3.19],[77.4,-3.23],[77.8,-3.19],
  [78.2,-3.23],[78.6,-3.19],[79.0,-3.23],[79.4,-3.19],[79.8,-3.22],[80.0,-3.1]
];

// Bragg positions (Posr): single marks and runs that print as solid black
const posr1 = [10.02,10.63,12.59,14.9,14.95,15.93,16.07,16.22,16.37,16.51,19.18,19.5,20.27,20.4,21.25,21.67,22.91,22.99,23.86,24.0,24.17,
  24.79,24.91,25.1,25.27,25.89,26.13,26.5,27.28,27.4,27.52,28.82,29.18,29.36,29.55,29.8,30.16,30.53,33.33,33.5,33.7,34.24,34.36,34.5,
  34.65,34.8,34.95,35.1,35.3,35.41,36.39,36.76,37.24];
const runs1 = [[31.5,32.97],[38.34,40.5],[40.6,42.9],[42.98,43.3],[43.4,46.2],[46.6,47.9],[48.0,48.2],[48.45,50.1],[50.6,53.4],[53.8,55.0],
  [55.45,61.6],[61.72,62.95],[63.05,65.95],[66.1,80]];
const posr2 = [10.1,10.6,12.31,12.68,13.62,13.96,14.28,14.6,14.94,15.51,15.83,16.0,16.17,16.37,16.54,16.74,16.9,17.55,17.97,20.67,21.04,
  21.41,21.66,22.47];
const runs2 = [[19.15,20.55],[22.76,26.7],[27.14,43.55],[43.65,44.55],[44.65,46.35],[46.45,47.85],[47.95,48.25],[48.35,50.65],[50.75,80]];
const posr3 = [10.29,10.67,10.87,11.48,12.74,13.07,13.45,13.58,14.97,15.22,15.42,15.93,16.1,16.3,16.5,16.7,17.1,17.3,17.5,18.13,18.77,
  18.95,19.1,19.3,19.5,19.7,19.9,20.16];
const runs3 = [[20.41,22.31],[22.86,25.47],[25.8,28.25],[28.5,53.58],[53.66,80]];

const titles = ['Modèle T1-1 : <T> P-1', 'Modèle T1-2 : 3<T> P-1', 'Modèle T1-3 : T1 (9<T> P-1)'];
const legendLabels = ['Yobs', 'Ycal', 'Yobs-Ycal', 'Posr'];
const xTickVals = [10, 20, 30, 40, 50, 60, 70, 80];

const FONT = '"Liberation Sans", Arial, Helvetica, sans-serif';

// page geometry, pixels inside each canvas
const layouts = [
  { pad: { top: 24, right: 16 }, yWidth: 74, xHeight: 64.5, title: [426, 82.5],
    box: [783, 102, 233, 130], sample: [812, 871], textX: 878, rows: [129, 157, 185, 213], posrX: 841, boxColor: '#000',
    yTitle: [27, -10], xTitle: [11, 54.5] },
  { pad: { top: 22, right: 19 }, yWidth: 78, xHeight: 65, title: [425, 85],
    box: [775, 98, 237, 136], sample: [829, 887], textX: 893, rows: [124.3, 152.3, 180.3, 208.7], posrX: 857, boxColor: '#333',
    yTitle: [30.5, -11], xTitle: [14, 53] },
  { pad: { top: 18.5, right: 35 }, yWidth: 89, xHeight: 68, title: [428.4, 79],
    box: [774, 96, 225, 133], sample: [819, 877], textX: 883, rows: [122.3, 150, 177.7, 205], posrX: 848, boxColor: '#333',
    yTitle: [48, -9], xTitle: [16, 54] }
];

// frame, inward ticks, title, legend box and axis titles
const decor = {
  id: 'decor',
  afterDraw(chart, args, o) {
    const { ctx, chartArea: a, scales: { x, y } } = chart;
    const L = o.lay;
    const seg = (x1, y1, x2, y2) => { ctx.beginPath(); ctx.moveTo(x1, y1); ctx.lineTo(x2, y2); ctx.stroke(); };
    ctx.save();
    ctx.strokeStyle = '#000';
    ctx.lineWidth = 2;
    for (let v = 10; v <= 80; v += 2) {
      const px = x.getPixelForValue(v), len = v % 10 === 0 ? 11 : 6;
      seg(px, a.bottom, px, a.bottom - len);
      seg(px, a.top, px, a.top + len);
    }
    for (let v = -6; v <= 14; v += 1) {
      const py = y.getPixelForValue(v), len = v % 2 === 0 ? 11 : 6;
      seg(a.left, py, a.left + len, py);
      seg(a.right, py, a.right - len, py);
    }
    ctx.lineWidth = 2.5;
    ctx.strokeRect(a.left, a.top, a.right - a.left, a.bottom - a.top);

    ctx.fillStyle = '#000';
    ctx.font = '37px ' + FONT;
    ctx.textAlign = 'left';
    ctx.textBaseline = 'alphabetic';
    ctx.fillText(o.title, L.title[0], L.title[1]);

    // legend
    ctx.lineWidth = 1.5;
    ctx.strokeStyle = L.boxColor;
    ctx.strokeRect(L.box[0], L.box[1], L.box[2], L.box[3]);
    const styles = [['#ff0000', 1.5, [2, 4.5]], ['#0000ff', 1.5, []], ['#000', 1, []]];
    ctx.font = '22px ' + FONT;
    ctx.textBaseline = 'middle';
    legendLabels.forEach((lab, i) => {
      const ry = L.rows[i];
      if (i < 3) {
        ctx.strokeStyle = styles[i][0];
        ctx.lineWidth = styles[i][1];
        ctx.setLineDash(styles[i][2]);
        seg(L.sample[0], ry, L.sample[1], ry);
        ctx.setLineDash([]);
      } else {
        ctx.strokeStyle = '#000';
        ctx.lineWidth = 1.5;
        seg(L.posrX, ry - 6, L.posrX, ry + 6);
      }
      ctx.fillText(lab, L.textX, ry);
    });

    // axis titles
    ctx.font = '23px ' + FONT;
    ctx.textAlign = 'center';
    ctx.fillText('2θ Cu (deg.)', (a.left + a.right) / 2 + L.xTitle[0], a.bottom + L.xTitle[1]);
    ctx.translate(L.yTitle[0], (a.top + a.bottom) / 2 + L.yTitle[1]);
    ctx.rotate(-Math.PI / 2);
    ctx.font = '22px ' + FONT;
    ctx.fillText('Intensité', 0, 0);
    ctx.restore();
  }
};

function build(id, pat, diff, posr, runs, title, L) {
  const datasets = [
    { label: 'Yobs', data: pat.map(r => ({ x: r[0], y: r[2] })), borderColor: '#ff0000', borderWidth: 1.5,
      borderDash: [2, 4], pointRadius: 0, tension: 0 },
    { label: 'Ycal', data: pat.map(r => ({ x: r[0], y: r[1] })), borderColor: '#0000ff', borderWidth: 1.4,
      pointRadius: 0, tension: 0 },
    { label: 'Yobs-Ycal', data: diff.map(r => ({ x: r[0], y: r[1] })), borderColor: '#000', borderWidth: 1.2,
      pointRadius: 0, tension: 0 },
    { label: 'Posr', data: posr.map(t => ({ x: t, y: -0.5 })), showLine: false, pointStyle: 'line', pointRotation: 90,
      pointRadius: 6, pointBorderWidth: 1.6, pointBorderColor: '#000', borderColor: '#000' }
  ];
  runs.forEach(r => datasets.push({
    label: 'Posr', data: [{ x: r[0], y: -0.25 }, { x: r[1], y: -0.25 }], borderWidth: 0, pointRadius: 0,
    fill: { value: -0.75 }, backgroundColor: '#000'
  }));

  new Chart(document.getElementById(id), {
    type: 'line',
    data: { datasets },
    options: {
      responsive: true,
      maintainAspectRatio: false,
      animation: false,
      events: [],
      layout: { padding: { left: 0, top: L.pad.top, right: L.pad.right, bottom: 0 } },
      plugins: { legend: { display: false }, tooltip: { enabled: false }, decor: { title, lay: L } },
      scales: {
        x: {
          type: 'linear', min: 10, max: 80,
          afterBuildTicks: s => { s.ticks = xTickVals.map(v => ({ value: v })); },
          afterFit: s => { s.height = L.xHeight; },
          grid: { display: false, drawTicks: false }, border: { display: false },
          ticks: { autoSkip: false, maxRotation: 0, padding: 9, color: '#000', font: { family: FONT, size: 23 } }
        },
        y: {
          min: -6, max: 14,
          afterFit: s => { s.width = L.yWidth; },
          grid: { display: false, drawTicks: false }, border: { display: false },
          ticks: {
            stepSize: 1, autoSkip: false, padding: 13, color: '#000',
            font: c => ({ family: FONT, size: c.tick && c.tick.value === 13 ? 19 : 23 }),
            callback: v => v === 13 ? '×100' : (v % 2 === 0 ? String(v) : '')
          }
        }
      }
    },
    plugins: [decor]
  });
}

build('c1', pat1, diff1, posr1, runs1, titles[0], layouts[0]);
build('c2', pat2, diff2, posr2, runs2, titles[1], layouts[1]);
build('c3', pat3, diff3, posr3, runs3, titles[2], layouts[2]);
</script>
</body>
</html>
